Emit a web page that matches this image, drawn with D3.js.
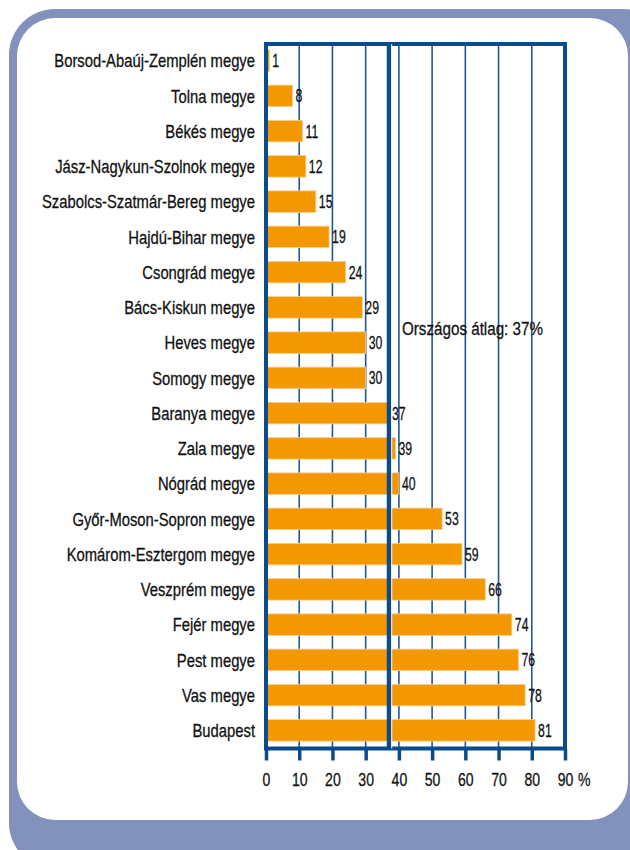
<!DOCTYPE html>
<html>
<head>
<meta charset="utf-8">
<script src="https://cdn.jsdelivr.net/npm/d3@7"></script>
<style>
    body { margin: 0; background: #ffffff; }
    svg text { font-family: "Liberation Sans", Arial, sans-serif; fill: #111; stroke: #111; stroke-width: 0.3px; }
</style>
</head>
<body>
<svg></svg>
<script>
const counties = [
    "Borsod-Abaúj-Zemplén megye", "Tolna megye", "Békés megye", "Jász-Nagykun-Szolnok megye",
    "Szabolcs-Szatmár-Bereg megye", "Hajdú-Bihar megye", "Csongrád megye", "Bács-Kiskun megye",
    "Heves megye", "Somogy megye", "Baranya megye", "Zala megye", "Nógrád megye",
    "Győr-Moson-Sopron megye", "Komárom-Esztergom megye", "Veszprém megye", "Fejér megye",
    "Pest megye", "Vas megye", "Budapest"
];
const values = [1, 8, 11, 12, 15, 19, 24, 29, 30, 30, 37, 39, 40, 53, 59, 66, 74, 76, 78, 81];
const xTicks = [0, 10, 20, 30, 40, 50, 60, 70, 80, 90];
const average = 37;
const averageLabel = "Országos átlag: 37%";

function drawChart() {
    let width = 630, height = 850;
    let margin = { top: 43, right: 64, bottom: 102, left: 266 };

    let svg = d3.select('svg')
        .attr('width', width)
        .attr('height', height);

    // frame: blue-grey rounded box with white inner panel
    svg.append('rect')
        .attr('x', 9).attr('y', 9)
        .attr('width', 660).attr('height', 860)
        .attr('rx', 46).attr('ry', 46)
        .attr('fill', '#8392bd');
    svg.append('rect')
        .attr('x', 17).attr('y', 18)
        .attr('width', 611).attr('height', 802)
        .attr('rx', 38).attr('ry', 38)
        .attr('fill', '#ffffff');

    let x = d3.scaleLinear()
        .domain([0, 90])
        .range([margin.left, width - margin.right - 1]);

    let y = d3.scaleBand()
        .domain(counties)
        .range([margin.top, height - margin.bottom])
        .paddingInner(0.39)
        .paddingOuter(0.195);

    let top = margin.top + 1, bottom = height - margin.bottom + 0.5;

    // vertical grid
    svg.append('g')
        .selectAll('line')
        .data(xTicks.slice(1, -1))
        .enter().append('line')
        .attr('x1', d => x(d)).attr('x2', d => x(d))
        .attr('y1', top).attr('y2', bottom)
        .style('stroke', '#1f5699')
        .style('stroke-width', 1.6);

    // bars
    svg.append('g')
        .selectAll('rect')
        .data(values)
        .enter().append('rect')
        .attr('x', x(0))
        .attr('y', (d, i) => y(counties[i]))
        .attr('width', d => x(d) - x(0))
        .attr('height', y.bandwidth())
        .attr('fill', '#f39800')
        .style('stroke', '#f8cf94')
        .style('stroke-width', 0.8);

    // value labels (narrowed to look condensed)
    svg.append('g')
        .selectAll('text')
        .data(values)
        .enter().append('text')
        .attr('transform', (d, i) => `translate(${x(d) + 3}, ${y(counties[i]) + y.bandwidth() / 2}) scale(0.68, 1)`)
        .attr('dy', '0.36em')
        .style('font-size', '18px')
        .text(d => d);

    // category labels
    svg.append('g')
        .selectAll('text')
        .data(counties)
        .enter().append('text')
        .attr('transform', d => `translate(${margin.left - 11}, ${y(d) + y.bandwidth() / 2}) scale(0.8, 1)`)
        .attr('dy', '0.36em')
        .attr('text-anchor', 'end')
        .style('font-size', '18.5px')
        .text(d => d);

    // plot border
    svg.append('rect')
        .attr('x', x(0)).attr('y', top)
        .attr('width', x(90) - x(0))
        .attr('height', bottom - top)
        .attr('fill', 'none')
        .style('stroke', '#0b4a8b')
        .style('stroke-width', 4);

    // national average line
    svg.append('line')
        .attr('x1', x(average) + 2.8).attr('x2', x(average) + 2.8)
        .attr('y1', top).attr('y2', bottom)
        .style('stroke', '#ffffff')
        .style('stroke-width', 1);
    svg.append('line')
        .attr('x1', x(average)).attr('x2', x(average))
        .attr('y1', top).attr('y2', bottom)
        .style('stroke', '#0b4a8b')
        .style('stroke-width', 4.3);

    svg.append('text')
        .attr('transform', 'translate(402, 335) scale(0.8, 1)')
        .style('font-size', '19px')
        .text(averageLabel);

    // x axis
    let xAxis = svg.append('g')
        .attr('transform', `translate(0, ${bottom})`)
        .call(d3.axisBottom(x).tickValues(xTicks).tickSize(12).tickPadding(12));
    xAxis.select('.domain').remove();
    xAxis.selectAll('.tick line')
        .style('stroke', '#0b4a8b')
        .style('stroke-width', 3.5);
    xAxis.selectAll('.tick text')
        .attr('transform', 'scale(0.74, 1)')
        .style('font-size', '19px')
        .attr('font-family', null)
        .attr('fill', null);

    svg.append('text')
        .attr('transform', `translate(${x(90) + 13}, ${bottom + 24}) scale(0.74, 1)`)
        .attr('dy', '0.71em')
        .style('font-size', '19px')
        .text('%');
}

drawChart();
</script>
</body>
</html>
